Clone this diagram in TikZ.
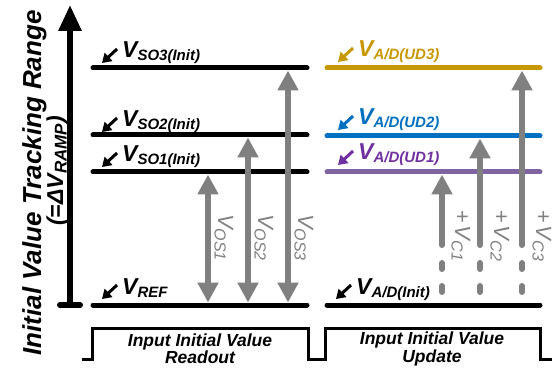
\documentclass[tikz,border=0pt]{standalone}
\usepackage{fontspec}
\setmainfont{Liberation Sans}
\usetikzlibrary{arrows.meta,calc}
\definecolor{goldc}{RGB}{200,152,0}
\definecolor{bluec}{RGB}{0,112,192}
\definecolor{purpl}{RGB}{128,100,162}
\definecolor{purpt}{RGB}{112,48,160}
\definecolor{grayc}{RGB}{128,128,128}
\newcommand{\blbl}[2]{{\fontsize{23}{23}\selectfont\bfseries\itshape #1}\raisebox{-3pt}{\fontsize{15}{15}\selectfont\bfseries\itshape #2}}
\newcommand{\albl}[2]{{\fontsize{23}{23}\selectfont\bfseries\itshape #1}\raisebox{-3.5pt}{\fontsize{17}{17}\selectfont\bfseries\itshape #2}}
\newcommand{\glbl}[2]{{\fontsize{22}{22}\selectfont\itshape #1}\raisebox{-3.5pt}{\fontsize{16}{16}\selectfont\itshape #2}}
\tikzset{
  lvl/.style={line width=5pt,line cap=round},
  labarr/.style={line width=3pt,-{Triangle[width=11pt,length=9pt]}},
  lab/.style={inner sep=0pt,anchor=base west},
  grayarr/.style={draw=grayc,line width=6pt,{Triangle[width=20pt,length=20pt]}-{Triangle[width=20pt,length=20pt]}},
  upar/.style={draw=grayc,line width=6pt,line cap=round,-{Triangle[width=20pt,length=20pt]}},
  gdash/.style={draw=grayc,line width=6pt,line cap=round},
  glab/.style={inner sep=0pt,text=grayc,rotate=-90,anchor=base west},
  phase/.style={font=\fontsize{17.5}{16}\selectfont\bfseries\itshape,align=center,inner sep=0pt},
}
\begin{document}
\begin{tikzpicture}[x=1pt,y=-1pt]
\useasboundingbox (0,0) rectangle (556,371);
% axis
\coordinate (axb) at (70,305);
\coordinate (axt) at (70,5);
\coordinate (capl) at (60,305);
\coordinate (capr) at (80,305);
\draw[line width=6pt,-{Triangle[width=22pt,length=26pt]}] (axb) -- (axt);
\draw[line width=6pt,line cap=round] (capl) -- (capr);
\node[rotate=90,anchor=base,inner sep=0pt] (axlab) at (41,183) {\fontsize{26}{26}\selectfont\bfseries\itshape Initial Value Tracking Range};
\node[rotate=90,anchor=base,inner sep=0pt] (axlab2) at (63,171) {\fontsize{23}{23}\selectfont\bfseries\itshape (=Δ\albl{V}{RAMP})};
% left levels
\foreach \n/\y in {so3/68,so2/135,so1/172,ref/305}{
  \coordinate (\n L) at (93,\y);
  \coordinate (\n R) at (307,\y);
  \draw[lvl] (\n L) -- (\n R);
}
% right levels
\coordinate (ud3L) at (327,68); \coordinate (ud3R) at (540,68);
\coordinate (ud2L) at (327,136); \coordinate (ud2R) at (540,136);
\coordinate (ud1L) at (327,172); \coordinate (ud1R) at (540,172);
\coordinate (iniL) at (327,305); \coordinate (iniR) at (540,305);
\draw[lvl,goldc] (ud3L) -- (ud3R);
\draw[lvl,bluec] (ud2L) -- (ud2R);
\draw[lvl,purpl] (ud1L) -- (ud1R);
\draw[lvl] (iniL) -- (iniR);
% left labels
\node[lab] (lso3) at (122,58) {\blbl{V}{SO3(Init)}};
\node[lab] (lso2) at (122,127) {\blbl{V}{SO2(Init)}};
\node[lab] (lso1) at (122,162) {\blbl{V}{SO1(Init)}};
\node[lab] (lref) at (122,294) {\blbl{V}{REF}};
\foreach \n in {lso3,lso2,lso1,lref}{
  \draw[labarr] ($(\n.base west)+(-5,-9)$) -- ++(-15,14);
}
% right labels
\node[lab,text=goldc] (lud3) at (358,57) {\blbl{V}{A/D(UD3)}};
\node[lab,text=bluec] (lud2) at (358,125) {\blbl{V}{A/D(UD2)}};
\node[lab,text=purpt] (lud1) at (358,160) {\blbl{V}{A/D(UD1)}};
\node[lab] (lini) at (356,294) {\blbl{V}{A/D(Init)}};
\draw[labarr,goldc] ($(lud3.base west)+(-5,-9)$) -- ++(-15,14);
\draw[labarr,bluec] ($(lud2.base west)+(-5,-9)$) -- ++(-15,14);
\draw[labarr,purpt] ($(lud1.base west)+(-5,-9)$) -- ++(-15,14);
\draw[labarr] ($(lini.base west)+(-5,-9)$) -- ++(-15,14);
% left gray arrows
\foreach \n/\x/\y in {1/208/174.5,2/248/137.5,3/288/70.5}{
  \coordinate (os\n t) at (\x,\y);
  \coordinate (os\n b) at (\x,302.5);
  \draw[grayarr] (os\n t) -- (os\n b);
}
\node[glab] (los1) at (218,214) {\glbl{V}{OS1}};
\node[glab] (los2) at (258,214) {\glbl{V}{OS2}};
\node[glab] (los3) at (298,214) {\glbl{V}{OS3}};
% right gray arrows
\foreach \n/\x/\y in {1/442/174.5,2/480/138.5,3/522/70.5}{
  \coordinate (c\n b) at (\x,245);
  \coordinate (c\n t) at (\x,\y);
  \coordinate (c\n d1) at (\x,263);
  \coordinate (c\n d2) at (\x,269);
  \coordinate (c\n d3) at (\x,286);
  \coordinate (c\n d4) at (\x,292);
  \draw[upar] (c\n b) -- (c\n t);
  \draw[gdash] (c\n d1) -- (c\n d2);
  \draw[gdash] (c\n d3) -- (c\n d4);
}
\node[glab] (lc1) at (455,210) {{\fontsize{22}{22}\selectfont +} \glbl{V}{C1}};
\node[glab] (lc2) at (494,210) {{\fontsize{22}{22}\selectfont +} \glbl{V}{C2}};
\node[glab] (lc3) at (536,210) {{\fontsize{22}{22}\selectfont +} \glbl{V}{C3}};
% phase waveform
\coordinate (w0) at (82,359); \coordinate (w1) at (92,359); \coordinate (w2) at (92,328);
\coordinate (w3) at (308,328); \coordinate (w4) at (308,359); \coordinate (w5) at (325,359);
\coordinate (w6) at (325,328); \coordinate (w7) at (540,328); \coordinate (w8) at (540,359);
\coordinate (w9) at (552,359);
\draw[line width=3pt] (w0) -- (w1) -- (w2) -- (w3) -- (w4) -- (w5) -- (w6) -- (w7) -- (w8) -- (w9);
\node[phase] (ph1) at (200,349) {Input Initial Value\\Readout};
\node[phase] (ph2) at (432,349) {Input Initial Value\\Update};
\end{tikzpicture}
\end{document}
